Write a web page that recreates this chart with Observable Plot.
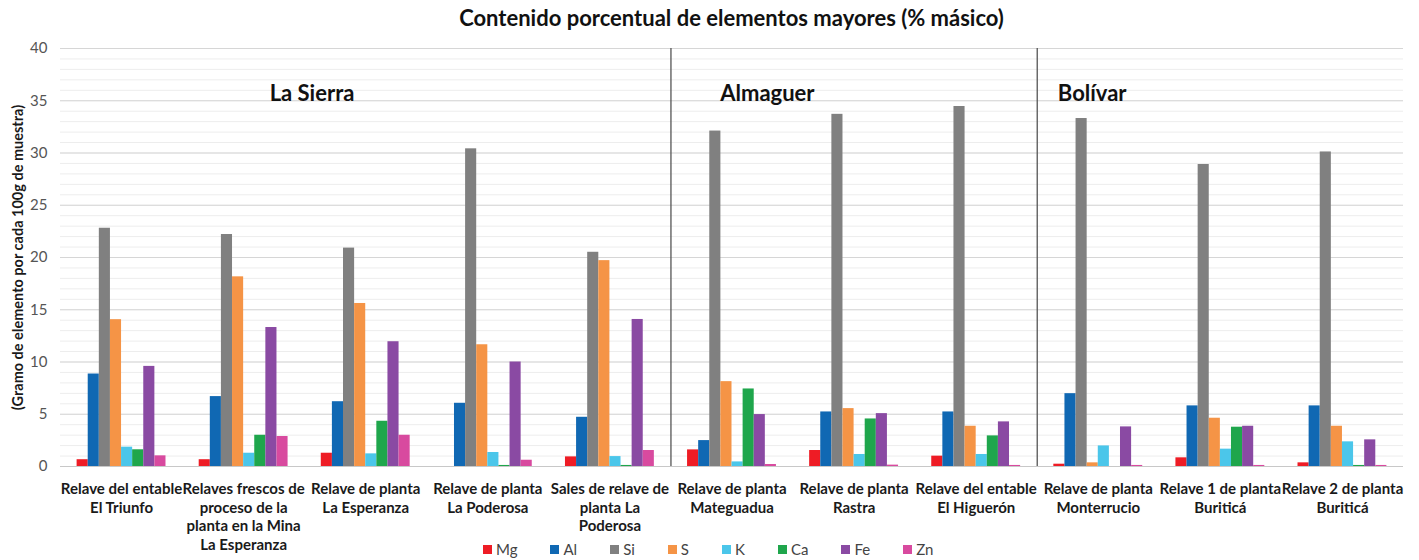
<!DOCTYPE html>
<html><head><meta charset="utf-8">
<script src="https://cdn.jsdelivr.net/npm/d3@7"></script>
<script src="https://cdn.jsdelivr.net/npm/@observablehq/plot@0.6"></script>
<style>
body{margin:0;background:#fff;font-family:Lato,"Open Sans",sans-serif;}
#wrap{position:relative;width:1419px;height:560px;overflow:hidden;background:#fff;}
#title{position:absolute;left:44px;top:0;width:1375px;height:38px;line-height:36px;text-align:center;font-weight:bold;font-size:22px;color:#111;font-family:Lato,"Open Sans",sans-serif;}
#chart{position:absolute;left:0;top:38px;}
#legend{position:absolute;left:483px;top:540px;}
.lg-swatches{min-height:0 !important;margin:0 !important;height:18px;}
.lg-swatch{margin-right:33px !important;}
.lg-swatch svg{margin-right:4px !important;}
</style></head><body>
<div id="wrap"><div id="title">Contenido porcentual de elementos mayores (% másico)</div><div id="chart"></div><div id="legend"></div></div>
<script>
const categories = [
  "Relave del entable\nEl Triunfo",
  "Relaves frescos de\nproceso de la\nplanta en la Mina\nLa Esperanza",
  "Relave de planta\nLa Esperanza",
  "Relave de planta\nLa Poderosa",
  "Sales de relave de\nplanta La\nPoderosa",
  "Relave de planta\nMateguadua",
  "Relave de planta\nRastra",
  "Relave del entable\nEl Higuerón",
  "Relave de planta\nMonterrucio",
  "Relave 1 de planta\nBuriticá",
  "Relave 2 de planta\nBuriticá"
];
const elements = ["Mg","Al","Si","S","K","Ca","Fe","Zn"];
const colors = ["#ee1c25","#1068b3","#808080","#f59446","#4bc6ea","#1fa64c","#8a4aa3","#d84a9f"];
const Mg = [0.65, 0.65, 1.27, 0, 0.92, 1.59, 1.53, 0.99, 0.22, 0.83, 0.35];
const Al = [8.85, 6.69, 6.2, 6.05, 4.71, 2.48, 5.22, 5.22, 6.97, 5.8, 5.8];
const Si = [22.8, 22.2, 20.9, 30.4, 20.5, 32.1, 33.7, 34.45, 33.3, 28.9, 30.1];
const S  = [14.05, 18.15, 15.6, 11.65, 19.7, 8.12, 5.54, 3.85, 0.35, 4.62, 3.85];
const K  = [1.85, 1.27, 1.21, 1.34, 0.95, 0.44, 1.15, 1.15, 1.97, 1.66, 2.36];
const Ca = [1.6, 2.99, 4.33, 0.1, 0.1, 7.42, 4.55, 2.93, 0, 3.76, 0.1];
const Fe = [9.58, 13.3, 11.94, 10.0, 14.07, 4.97, 5.06, 4.27, 3.79, 3.85, 2.55];
const Zn = [1.02, 2.87, 2.99, 0.6, 1.53, 0.19, 0.13, 0.1, 0.1, 0.1, 0.1];
const regions = ["La Sierra","Almaguer","Bolívar"];
const regionSizes = [5, 3, 3];
const yTicks = [0,5,10,15,20,25,30,35,40];
const yMinor = d3.range(0, 41, 1);
const yLabel = "(Gramo de elemento por cada 100g de muestra)";

// layout (annotation placement, not data)
const regionLabelX = [2.06, 5.79, 8.45];
const bw = 0.091;

const series = {Mg, Al, Si, S, K, Ca, Fe, Zn};
const rows = categories.flatMap((c, i) => elements.map((e, j) => ({cat: i, el: j, element: e, value: series[e][i]})));
const boundaries = d3.cumsum(regionSizes).slice(0, -1);

const font = 'Lato, "Open Sans", sans-serif';
const chart = Plot.plot({
  width: 1419, height: 522,
  marginLeft: 60, marginRight: 16, marginTop: 10, marginBottom: 94,
  style: {fontFamily: font, background: "#fff"},
  x: {domain: [0, categories.length], axis: null},
  y: {domain: [0, 40], axis: null},
  color: {domain: elements, range: colors},
  marks: [
    Plot.gridY(yMinor, {stroke: "#ededed", strokeOpacity: 1}),
    Plot.gridY(yTicks, {stroke: "#d6d6d6", strokeOpacity: 1}),
    Plot.axisY(yTicks, {tickSize: 0, tickPadding: 13, fontSize: 15, fill: "#555", label: null}),
    Plot.rectY(rows, {x1: d => d.cat + 0.5 + (d.el - 4) * bw, x2: d => d.cat + 0.5 + (d.el - 3) * bw, y: "value", fill: "element"}),
    Plot.ruleY([0], {stroke: "#c8c8c8"}),
    Plot.ruleX(boundaries, {y1: 0, y2: 40, stroke: "#555", strokeWidth: 1.3}),
    Plot.text(regions, {x: (d, i) => regionLabelX[i], frameAnchor: "top", dy: 37, text: d => d, fontSize: 22, fontWeight: "bold", fill: "#111"}),
    Plot.text(categories, {x: (d, i) => i + 0.5, frameAnchor: "bottom", lineAnchor: "top", dy: 14, text: d => d, fontSize: 15, fontWeight: "bold", lineHeight: 1.25, fill: "#1a1a1a"}),
    Plot.text([yLabel], {frameAnchor: "left", dx: -42, rotate: -90, textAnchor: "middle", text: d => d, fontSize: 14.5, fontWeight: "bold", fill: "#1a1a1a"})
  ]
});
document.getElementById("chart").appendChild(chart);
const lg = Plot.legend({color: {domain: elements, range: colors}, legend: "swatches", swatchSize: 9, className: "lg", style: {fontFamily: font, fontSize: "15px", color: "#444"}});
document.getElementById("legend").appendChild(lg);
</script>
</body></html>
